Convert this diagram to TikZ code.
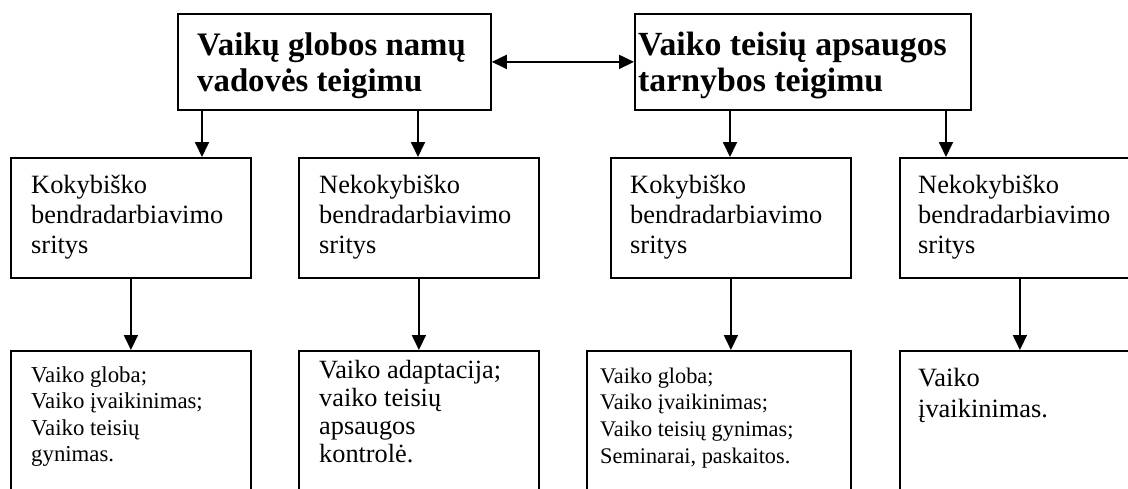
\documentclass[tikz,border=0pt]{standalone}
\usepackage{fontspec}
\setmainfont{Liberation Serif}
\usetikzlibrary{arrows.meta}
\newcommand{\txtlines}[3]{\fontsize{#1}{#2}\selectfont\begin{tabular}[t]{@{}l@{}}#3\end{tabular}}
\begin{document}
\begin{tikzpicture}[x=1pt,y=-1pt,
  box/.style={draw, line width=1.8pt, inner sep=0pt, anchor=north west},
  arr/.style={line width=1.8pt, -{Triangle[length=15pt,width=14pt]}},
  dblarr/.style={line width=1.8pt, {Triangle[length=15pt,width=14pt]}-{Triangle[length=15pt,width=14pt]}},
  lbl/.style={anchor=base west, inner sep=0pt}]
\clip (0,0) rectangle (1128,488);
\fill[white] (0,0) rectangle (1128,488);
% top boxes
\node[box, minimum width=313pt, minimum height=96pt] (T1) at (177,13) {};
\node[box, minimum width=336pt, minimum height=96pt] (T2) at (634,13) {};
% middle boxes
\node[box, minimum width=240pt, minimum height=120pt] (M1) at (10,157) {};
\node[box, minimum width=240pt, minimum height=120pt] (M2) at (298,157) {};
\node[box, minimum width=240pt, minimum height=120pt] (M3) at (610,157) {};
\node[box, minimum width=240pt, minimum height=120pt] (M4) at (899,157) {};
% bottom boxes
\node[box, minimum width=240pt, minimum height=160pt] (B1) at (10,350) {};
\node[box, minimum width=240pt, minimum height=160pt] (B2) at (298,350) {};
\node[box, minimum width=264pt, minimum height=160pt] (B3) at (586,350) {};
\node[box, minimum width=240pt, minimum height=160pt] (B4) at (899,350) {};
% texts
\node[lbl, font=\bfseries] (t1) at (197,55) {\txtlines{32.8}{36}{Vaikų globos namų\\vadovės teigimu}};
\node[lbl, font=\bfseries] (t2) at (638,55) {\txtlines{33.8}{36}{Vaiko teisių apsaugos\\tarnybos teigimu}};
\node[lbl] (m1) at (31,193) {\txtlines{26.4}{30}{Kokybiško\\bendradarbiavimo\\sritys}};
\node[lbl] (m2) at (319,193) {\txtlines{26.4}{30}{Nekokybiško\\bendradarbiavimo\\sritys}};
\node[lbl] (m3) at (630,193) {\txtlines{26.4}{30}{Kokybiško\\bendradarbiavimo\\sritys}};
\node[lbl] (m4) at (918,193) {\txtlines{26.4}{30}{Nekokybiško\\bendradarbiavimo\\sritys}};
\node[lbl] (b1) at (31,382) {\txtlines{22.8}{26.6}{Vaiko globa;\\Vaiko įvaikinimas;\\Vaiko teisių\\gynimas.}};
\node[lbl] (b2) at (319,378) {\txtlines{26.3}{28.2}{Vaiko adaptacija;\\vaiko teisių\\apsaugos\\kontrolė.}};
\node[lbl] (b3) at (600,383) {\txtlines{22.3}{26.7}{Vaiko globa;\\Vaiko įvaikinimas;\\Vaiko teisių gynimas;\\Seminarai, paskaitos.}};
\node[lbl] (b4) at (918,386) {\txtlines{26.4}{31}{Vaiko\\įvaikinimas.}};
% connectors
\coordinate (x1) at (202,0);
\coordinate (x2) at (418,0);
\coordinate (x3) at (730,0);
\coordinate (x4) at (946,0);
\draw[dblarr] (T1.east) -- (T2.west);
\draw[arr] (T1.south -| x1) -- (M1.north -| x1);
\draw[arr] (T1.south -| x2) -- (M2.north -| x2);
\draw[arr] (T2.south -| x3) -- (M3.north -| x3);
\draw[arr] (T2.south -| x4) -- (M4.north -| x4);
\draw[arr] (M1.south) -- (M1.south |- B1.north);
\draw[arr] (M2.south) -- (M2.south |- B2.north);
\draw[arr] (M3.south) -- (M3.south |- B3.north);
\draw[arr] (M4.south) -- (M4.south |- B4.north);
\end{tikzpicture}
\end{document}
